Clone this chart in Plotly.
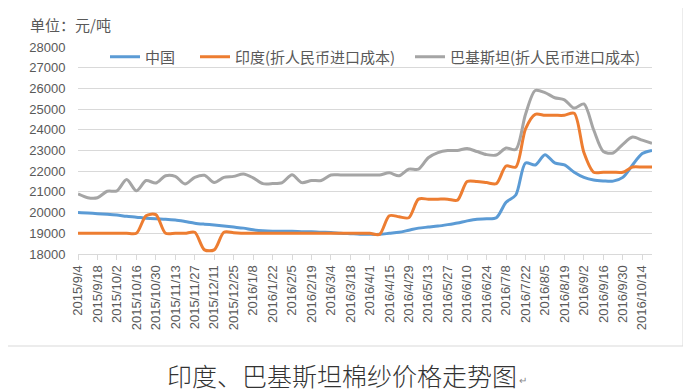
import pandas as pd
import plotly.graph_objects as go

# ---- data ----
dates = pd.date_range("2015-09-04", periods=60, freq="7D")
categories = [f"{d.year}/{d.month}/{d.day}" for d in dates]

china = [20000, 19980, 19950, 19920, 19880, 19820, 19780, 19730, 19700, 19680,
         19640, 19570, 19490, 19440, 19400, 19350, 19300, 19250, 19170, 19120,
         19100, 19100, 19100, 19080, 19070, 19050, 19040, 19000, 18980, 18960,
         18950, 18950, 19000, 19050, 19150, 19250, 19300, 19350, 19420, 19500,
         19600, 19680, 19700, 19750, 20500, 20850, 22400, 22300, 22800, 22400,
         22300, 21950, 21700, 21570, 21530, 21520, 21700, 22300, 22850, 23000]

india = [19000, 19000, 19000, 19000, 19000, 19000, 19000, 19850, 19900, 19000,
         19000, 19000, 19050, 18200, 18200, 19050, 19030, 19000, 19000, 19000,
         19000, 19000, 19000, 19000, 19000, 19000, 19000, 19000, 19000, 19000,
         19000, 18950, 19850, 19800, 19750, 20650, 20650, 20650, 20650, 20600,
         21500, 21500, 21450, 21400, 22250, 22200, 24050, 24750, 24700, 24700,
         24700, 24800, 22900, 21950, 21950, 21950, 21950, 22200, 22200, 22200]

pakistan = [20900, 20720, 20720, 21030, 21050, 21600, 21050, 21550, 21430, 21780,
            21750, 21380, 21700, 21800, 21450, 21700, 21750, 21870, 21680, 21400,
            21400, 21450, 21830, 21450, 21550, 21550, 21820, 21820, 21820, 21820,
            21820, 21820, 21920, 21780, 22100, 22100, 22650, 22900, 23000, 23000,
            23100, 22950, 22800, 22780, 23120, 23050, 24750, 25900, 25800, 25550,
            25450, 25050, 25250, 24000, 22950, 22880, 23300, 23650, 23500, 23350]

series_names = ["中国", "印度(折人民币进口成本)", "巴基斯坦(折人民币进口成本)"]
series_colors = ["#5B9BD5", "#ED7D31", "#A5A5A5"]
y_ticks = list(range(18000, 28001, 1000))
y_ticktext = [str(v) for v in y_ticks]

unit_label = "单位：元/吨"
caption = "印度、巴基斯坦棉纱价格走势图"

# ---- geometry (the page body adds an 8px offset) ----
OFF = 8
W, H = 691 - OFF, 392 - OFF
plot_left, plot_right, plot_top, plot_bottom = 78, 652, 47, 254  # window pixels
L = plot_left - OFF
T = plot_top - OFF
R = W - (plot_right - OFF)
B = H - (plot_bottom - OFF)
pw, ph = W - L - R, H - T - B

def px_x(px):
    return (px - OFF - L) / pw

def px_y(py):
    return (H - B - (py - OFF)) / ph

legend_ids = ["legend", "legend2", "legend3"]
legend_x = [105, 195, 410]

fig = go.Figure()
for name, vals, col, lid in zip(series_names, [china, india, pakistan], series_colors, legend_ids):
    fig.add_trace(go.Scatter(
        x=categories, y=vals, name=name, mode="lines", legend=lid,
        line=dict(color=col, width=3, shape="spline", smoothing=0.8),
    ))

legend_common = dict(
    orientation="h", yanchor="middle", xanchor="left",
    bgcolor="rgba(0,0,0,0)", font=dict(size=15, color="#595959"),
    itemwidth=30,
)
layout_legends = {}
for lid, lx in zip(legend_ids, legend_x):
    layout_legends[lid] = dict(legend_common, x=px_x(lx), y=px_y(57))

fig.update_layout(
    width=W, height=H,
    margin=dict(l=L, r=R, t=T, b=B),
    paper_bgcolor="white", plot_bgcolor="white",
    font=dict(family="Noto Sans CJK SC, Noto Sans, sans-serif", color="#595959", size=13),
    showlegend=True,
    xaxis=dict(
        type="category", range=[0, len(categories) - 1],
        tickvals=categories[::2], ticktext=categories[::2],
        tickangle=-90, ticks="outside", ticklen=5, tickcolor="#d9d9d9",
        showline=True, linecolor="#d9d9d9", linewidth=1,
        showgrid=False, zeroline=False,
        tickfont=dict(family="Liberation Sans, Arial, sans-serif", size=13, color="#595959"),
    ),
    yaxis=dict(
        range=[18000, 28000], tickvals=y_ticks, ticktext=y_ticktext,
        showgrid=True, gridcolor="#d9d9d9", gridwidth=1, zeroline=False,
        ticks="outside", ticklen=9, tickcolor="rgba(0,0,0,0)",
        tickfont=dict(family="Liberation Sans, Arial, sans-serif", size=13, color="#595959"),
    ),
    shapes=[dict(
        type="rect", xref="paper", yref="paper",
        x0=px_x(3), x1=px_x(683), y0=px_y(346), y1=px_y(5),
        line=dict(color="#d9d9d9", width=1), fillcolor="rgba(0,0,0,0)", layer="below",
    )],
    annotations=[
        dict(text=unit_label, xref="paper", yref="paper", x=px_x(28), y=px_y(25),
             xanchor="left", yanchor="middle", showarrow=False,
             font=dict(size=15, color="#595959")),
        dict(text=caption, xref="paper", yref="paper", x=px_x(342), y=px_y(375),
             xanchor="center", yanchor="middle", showarrow=False,
             font=dict(size=25, color="#333333", weight=300)),
        dict(text="↵", xref="paper", yref="paper", x=px_x(517), y=px_y(379),
             xanchor="left", yanchor="middle", showarrow=False,
             font=dict(size=10, color="#888888")),
    ],
    **layout_legends,
)

fig.write_html("out.html")
